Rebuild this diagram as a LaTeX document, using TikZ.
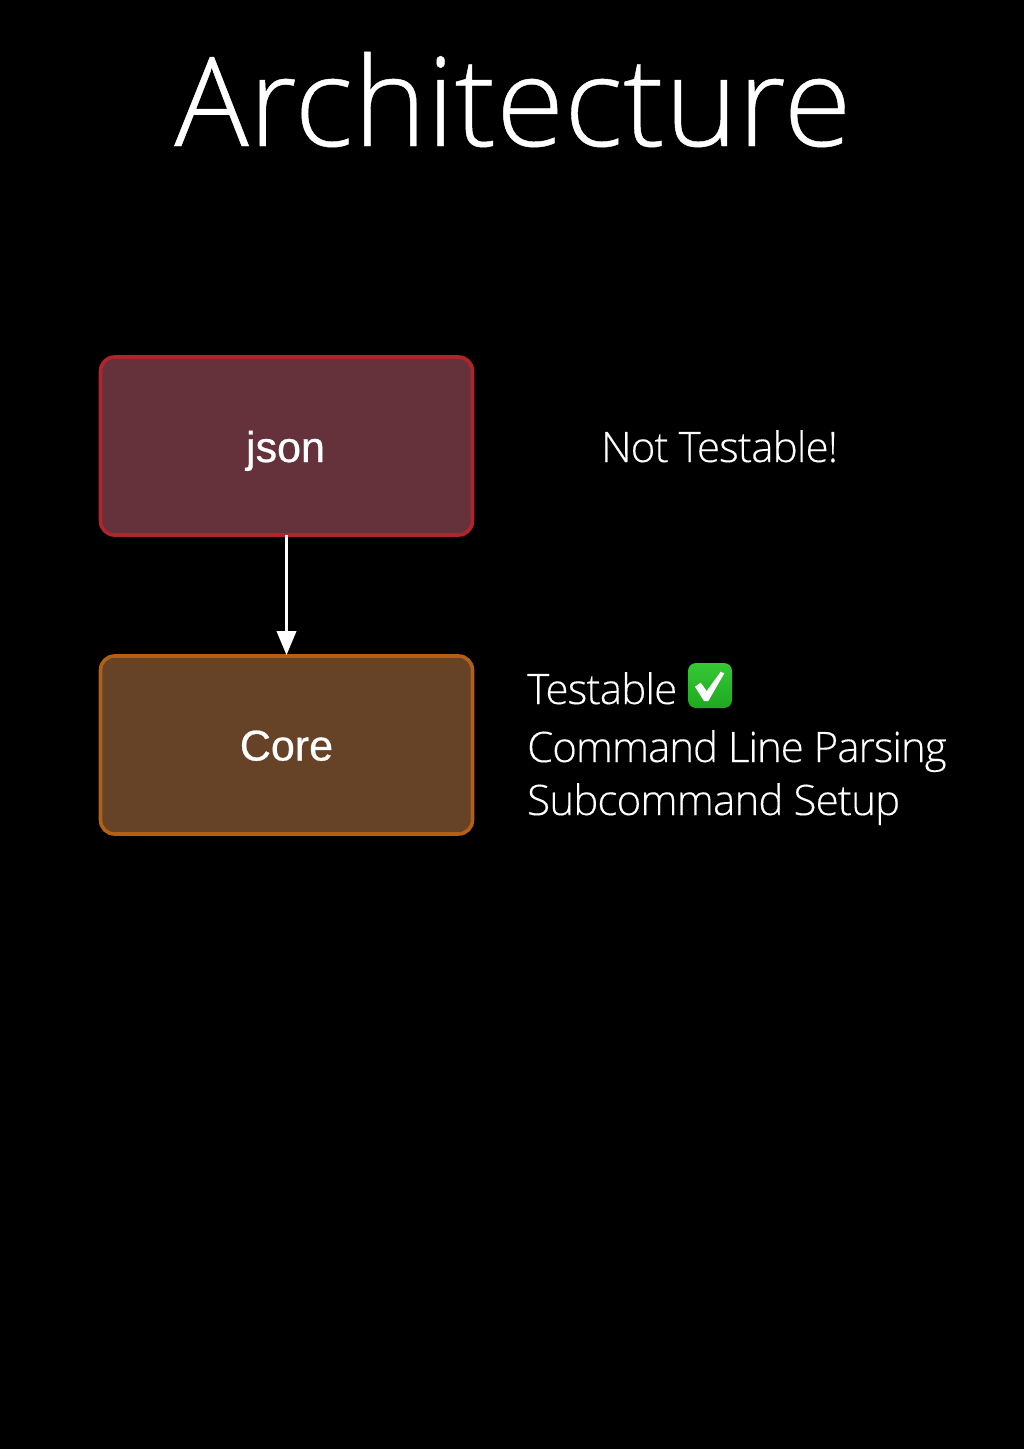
\documentclass[tikz,border=0pt]{standalone}
\usepackage{fontspec}
\setmainfont{Liberation Sans}
\newfontfamily\titlefont[UprightFont=* Light,FakeBold=0.35]{Open Sans}
\newfontfamily\notefont[UprightFont=* Light,LetterSpace=-1.9,FakeBold=0.25]{Open Sans}
\newfontfamily\tightfont[UprightFont=* Light,LetterSpace=-2.4,FakeBold=0.25]{Open Sans}
\newfontfamily\boxfont[FakeBold=0.6]{Liberation Sans}
\usetikzlibrary{arrows.meta}
\definecolor{jsonfill}{HTML}{65323B}
\definecolor{jsonline}{HTML}{B3232B}
\definecolor{corefill}{HTML}{664226}
\definecolor{coreline}{HTML}{B35F14}
\definecolor{ticktop}{HTML}{35C935}
\definecolor{tickbottom}{HTML}{1FA81F}
\tikzset{
  x=1pt,y=-1pt,
  modbox/.style={rounded corners=14pt,line width=3.6pt,minimum width=372pt,minimum height=178pt,inner sep=0pt},
  boxlabel/.style={anchor=base,text=white,inner sep=0pt,font=\boxfont\fontsize{43}{43}\selectfont},
  note/.style={anchor=base west,text=white,inner sep=0pt,font=\notefont\fontsize{42}{42}\selectfont},
  flow/.style={draw=white,line width=3.5pt,-{Triangle[length=24pt,width=19pt]},shorten >=-1pt,shorten <=-1.8pt}
}
\begin{document}
\begin{tikzpicture}
\useasboundingbox (0,0) rectangle (1024,1449);
\fill[black] (0,0) rectangle (1024,1449);
\node[anchor=base,text=white,inner sep=0pt,font=\titlefont\fontsize{124}{124}\selectfont] (title) at (513,146) {Architecture};
\node[modbox,draw=jsonline,fill=jsonfill] (json) at (286.5,446) {};
\node[modbox,draw=coreline,fill=corefill] (core) at (286.5,745) {};
\node[boxlabel] (jsonlabel) at (285.5,462) {json};
\node[boxlabel] (corelabel) at (286.5,760.5) {Core};
\draw[flow] (json.south) -- (core.north);
\node[note] (nt) at (601,462) {Not Testable!};
\node[note] (t) at (527,704) {Testable};
\node[note,font=\tightfont\fontsize{42}{42}\selectfont] (c) at (527,762) {Command Line Parsing};
\node[note] (s) at (527,815) {Subcommand Setup};
\node[top color=ticktop,bottom color=tickbottom,rounded corners=8pt,minimum width=44pt,minimum height=45pt,inner sep=0pt] (tick) at (710,685.5) {};
\fill[white] (695,686.7) -- (700.7,682.7) -- (706.7,691) -- (720.7,671.7) -- (724.3,673.3) -- (708.3,701) -- (704,701) -- cycle;
\end{tikzpicture}
\end{document}
